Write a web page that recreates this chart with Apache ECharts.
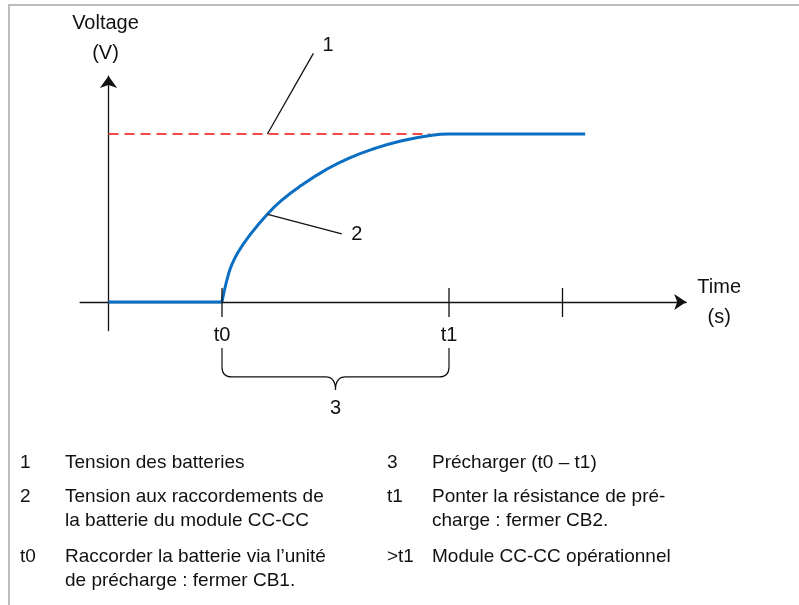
<!DOCTYPE html>
<html>
<head>
<meta charset="utf-8">
<script src="https://cdn.jsdelivr.net/npm/echarts@6/dist/echarts.min.js"></script>
<style>
  html, body { margin: 0; padding: 0; background: #fff; }
  #chart { position: absolute; left: 0; top: 0; width: 799px; height: 605px; }
  #frame { position: absolute; left: 8px; top: 4px; right: 0; bottom: -10px;
           border-top: 2px solid #bdbdbd; border-left: 2px solid #bdbdbd; pointer-events: none; }
</style>
</head>
<body>
<div id="chart"></div>
<div id="frame"></div>
<script>
// Time in arbitrary units (t0 = 1, t1 = 3); voltage normalised so battery voltage = 100.
const tickValues = [1, 3, 4];
const tickLabels = { 1: 't0', 3: 't1' };

const batteryVoltage = [[0, 100], [2.83, 100]];
const idleSegment = [[0, 0], [1, 0]];
const chargeCurve = [
  [1, 0], [1.018, 6], [1.055, 16], [1.085, 22], [1.145, 30], [1.23, 38.5], [1.395, 52],
  [1.525, 60.5], [1.7, 69.5], [1.91, 78.5], [2.115, 85.5], [2.35, 91.5], [2.585, 96],
  [2.82, 99], [3, 100], [4.2, 100]
];

// callout leaders: [fromX, fromY, toX, toY, labelX, labelY]
const calloutLabels = ['1', '2'];
const calloutLines = [
  [1.4, 100, 1.805, 148, 1.935, 152.4],
  [1.403, 52.2, 2.055, 40.5, 2.188, 40.2]
];

// precharge bracket: [fromX, toX, topY, barY, tipY, labelX, labelY]
const bracketLabel = '3';
const bracketSpan = [[1, 3, -27.4, -44.6, -52.4, 2, -63.1]];

const legendLeft = [
  ['1', 'Tension des batteries'],
  ['2', 'Tension aux raccordements de\nla batterie du module CC-CC'],
  ['t0', 'Raccorder la batterie via l\u2019unité\nde précharge : fermer CB1.']
];
const legendRight = [
  ['3', 'Précharger (t0 \u2013 t1)'],
  ['t1', 'Ponter la résistance de pré-\ncharge : fermer CB2.'],
  ['>t1', 'Module CC-CC opérationnel']
];

const FONT = '"Liberation Sans", Arial, sans-serif';
const INK = '#111';
const BLUE = '#0a6fc2';
const RED = '#ee4a4a';

const chart = echarts.init(document.getElementById('chart'), null, { renderer: 'canvas' });

// tick marks crossing the time axis, with their names underneath
function renderTick(params, api) {
  const v = api.value(0);
  const p = api.coord([v, 0]);
  const children = [
    { type: 'line', shape: { x1: p[0], y1: p[1] - 14, x2: p[0], y2: p[1] + 15 },
      style: { stroke: INK, lineWidth: 1.3 } }
  ];
  if (tickLabels[v]) {
    children.push({ type: 'text', x: p[0], y: p[1] + 33,
      style: { text: tickLabels[v], fontSize: 20, fontFamily: FONT, fill: INK,
               align: 'center', verticalAlign: 'middle' } });
  }
  return { type: 'group', children };
}

function renderCallout(params, api) {
  const a = api.coord([api.value(0), api.value(1)]);
  const b = api.coord([api.value(2), api.value(3)]);
  const c = api.coord([api.value(4), api.value(5)]);
  return {
    type: 'group',
    children: [
      { type: 'line', shape: { x1: a[0], y1: a[1], x2: b[0], y2: b[1] },
        style: { stroke: INK, lineWidth: 1.3 } },
      { type: 'text', x: c[0], y: c[1],
        style: { text: calloutLabels[params.dataIndex], fontSize: 20, fontFamily: FONT,
                 fill: INK, align: 'center', verticalAlign: 'middle' } }
    ]
  };
}

function renderBracket(params, api) {
  const x0 = api.coord([api.value(0), 0])[0];
  const x1 = api.coord([api.value(1), 0])[0];
  const yTop = api.coord([0, api.value(2)])[1];
  const yBar = api.coord([0, api.value(3)])[1];
  const yTip = api.coord([0, api.value(4)])[1];
  const lab = api.coord([api.value(5), api.value(6)]);
  const xm = (x0 + x1) / 2;
  const r = 10;
  const d = `M${x0},${yTop} L${x0},${yBar - r} Q${x0},${yBar} ${x0 + r},${yBar} ` +
            `L${xm - r},${yBar} Q${xm},${yBar} ${xm},${yTip} Q${xm},${yBar} ${xm + r},${yBar} ` +
            `L${x1 - r},${yBar} Q${x1},${yBar} ${x1},${yBar - r} L${x1},${yTop}`;
  return {
    type: 'group',
    children: [
      { type: 'path', shape: { pathData: d }, style: { fill: null, stroke: INK, lineWidth: 1.2 } },
      { type: 'text', x: lab[0], y: lab[1],
        style: { text: bracketLabel, fontSize: 20, fontFamily: FONT, fill: INK,
                 align: 'center', verticalAlign: 'middle' } }
    ]
  };
}

// key / description block under the plot
const legendGraphics = [];
const rowTops = [451, 485, 545];
[[legendLeft, 20, 65], [legendRight, 387, 432]].forEach(([rows, keyX, textX]) => {
  rows.forEach((row, i) => {
    legendGraphics.push({
      type: 'text', left: keyX, top: rowTops[i], silent: true,
      style: { text: row[0], fontSize: 19, lineHeight: 24, fontFamily: FONT, fill: INK }
    });
    legendGraphics.push({
      type: 'text', left: textX, top: rowTops[i], silent: true,
      style: { text: row[1], fontSize: 19, lineHeight: 24, fontFamily: FONT, fill: INK }
    });
  });
});

const axisLineStyle = { color: INK, width: 1.3 };

chart.setOption({
  animation: false,
  backgroundColor: '#fff',
  grid: { left: 80.125, top: 76.04, width: 606.09, height: 254.52, outerBoundsMode: 'none' },
  xAxis: {
    type: 'value', min: -0.25, max: 5.09,
    axisLine: { onZero: true, symbol: ['none', 'arrow'], symbolSize: [12, 12], lineStyle: axisLineStyle },
    axisTick: { show: false },
    axisLabel: { show: false },
    splitLine: { show: false },
    name: 'Time\n(s)', nameLocation: 'end', nameGap: 33,
    nameTextStyle: { fontSize: 20, lineHeight: 30, align: 'center', verticalAlign: 'middle',
                     color: INK, fontFamily: FONT, padding: [4, 0, 0, 0] }
  },
  yAxis: {
    type: 'value', min: -17, max: 134.5,
    axisLine: { onZero: true, symbol: ['none', 'arrow'], symbolSize: [13, 12], lineStyle: axisLineStyle },
    axisTick: { show: false },
    axisLabel: { show: false },
    splitLine: { show: false },
    name: 'Voltage\n(V)', nameLocation: 'end', nameGap: 8,
    nameTextStyle: { fontSize: 20, lineHeight: 30, color: INK, fontFamily: FONT, padding: [0, 6, 0, 0] }
  },
  series: [
    { type: 'line', data: batteryVoltage, symbol: 'none', silent: true, z: 2,
      lineStyle: { color: RED, width: 2, type: [10, 6] } },
    { type: 'line', data: idleSegment, symbol: 'none', silent: true, z: 3,
      lineStyle: { color: BLUE, width: 3 } },
    { type: 'line', data: chargeCurve, symbol: 'none', smooth: 0.5, silent: true, z: 3,
      lineStyle: { color: BLUE, width: 3 } },
    { type: 'custom', data: tickValues.map(v => [v]), renderItem: renderTick, clip: false, silent: true, z: 4 },
    { type: 'custom', data: calloutLines, renderItem: renderCallout, clip: false, silent: true, z: 4 },
    { type: 'custom', data: bracketSpan, renderItem: renderBracket, clip: false, silent: true, z: 4 }
  ],
  graphic: legendGraphics
});
</script>
</body>
</html>
